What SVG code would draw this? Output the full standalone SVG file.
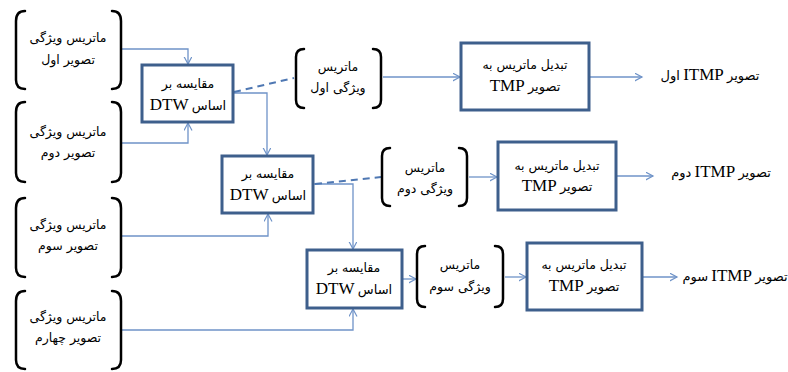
<svg xmlns="http://www.w3.org/2000/svg" width="788" height="372" viewBox="0 0 788 372">
<defs>
<marker id="arr" markerWidth="10" markerHeight="10" refX="7.5" refY="4" orient="auto" markerUnits="userSpaceOnUse">
<path d="M0,0 L7.5,4 L0,8" fill="none" stroke="#6f93c8" stroke-width="1.2"/>
</marker>
<style>
.box{fill:#ffffff;stroke:#3e5f8c;stroke-width:3}
.br{fill:none;stroke:#000000;stroke-width:2.5;stroke-linecap:round}
.c{fill:none;stroke:#6f93c8;stroke-width:1.3}
.d{fill:none;stroke:#4f78b3;stroke-width:2;stroke-dasharray:7,5}
.ar{font-family:"DejaVu Sans",sans-serif;font-size:12.5px;fill:#000}
.t{font-family:"Liberation Serif","DejaVu Sans",serif;font-size:13px;fill:#000}
.big{font-family:"Liberation Serif",serif;font-size:17px}
</style>
</defs>
<rect width="788" height="372" fill="#ffffff"/>

<g id="connectors">
<path class="c" d="M122,49 H188 V64" marker-end="url(#arr)"/>
<path class="c" d="M122,143 H188 V123" marker-end="url(#arr)"/>
<path class="c" d="M233,93 H267 V155" marker-end="url(#arr)"/>
<path class="c" d="M122,236 H268 V214" marker-end="url(#arr)"/>
<path class="c" d="M314,184 H353 V249" marker-end="url(#arr)"/>
<path class="c" d="M122,330 H353 V309" marker-end="url(#arr)"/>
<path class="c" d="M403,279 H416" marker-end="url(#arr)"/>
<path class="c" d="M505,277 H526" marker-end="url(#arr)"/>
<path class="c" d="M643,277 H677" marker-end="url(#arr)"/>
<path class="c" d="M383,77 H460" marker-end="url(#arr)"/>
<path class="c" d="M590,77 H642" marker-end="url(#arr)"/>
<path class="c" d="M469,177 H497" marker-end="url(#arr)"/>
<path class="c" d="M617,176 H653" marker-end="url(#arr)"/>
<path class="d" d="M234,92 L294,78"/>
<path class="d" d="M315,184 L381,177"/>
</g>

<g id="n1">
<path class="br" d="M25,11 Q16,11 16,21 V80 Q16,89 25,89"/>
<path class="br" d="M112,11 Q121,11 121,21 V80 Q121,89 112,89"/>
<text class="ar" x="68" y="42" text-anchor="middle" direction="rtl">ماتریس ویژگی</text>
<text class="ar" x="68" y="64" text-anchor="middle" direction="rtl">تصویر اول</text>
</g>
<g id="n2">
<path class="br" d="M25,102 Q16,102 16,112 V173 Q16,182 25,182"/>
<path class="br" d="M112,102 Q121,102 121,112 V173 Q121,182 112,182"/>
<text class="ar" x="68" y="136" text-anchor="middle" direction="rtl">ماتریس ویژگی</text>
<text class="ar" x="68" y="157" text-anchor="middle" direction="rtl">تصویر دوم</text>
</g>
<g id="n3">
<path class="br" d="M25,198 Q16,198 16,208 V268 Q16,277 25,277"/>
<path class="br" d="M112,198 Q121,198 121,208 V268 Q121,277 112,277"/>
<text class="ar" x="68" y="229" text-anchor="middle" direction="rtl">ماتریس ویژگی</text>
<text class="ar" x="68" y="250" text-anchor="middle" direction="rtl">تصویر سوم</text>
</g>
<g id="n4">
<path class="br" d="M25,291 Q16,291 16,301 V360 Q16,369 25,369"/>
<path class="br" d="M112,291 Q121,291 121,301 V360 Q121,369 112,369"/>
<text class="ar" x="68" y="321" text-anchor="middle" direction="rtl">ماتریس ویژگی</text>
<text class="ar" x="68" y="342" text-anchor="middle" direction="rtl">تصویر چهارم</text>
</g>

<g id="dtw1">
<rect class="box" x="142" y="65" width="91" height="57"/>
<text class="ar" x="188" y="88" text-anchor="middle" direction="rtl">مقایسه بر</text>
<text class="t" x="188" y="110" text-anchor="middle" direction="rtl">اساس <tspan class="big">DTW</tspan></text>
</g>
<g id="dtw2">
<rect class="box" x="222" y="156" width="91" height="57"/>
<text class="ar" x="268" y="178" text-anchor="middle" direction="rtl">مقایسه بر</text>
<text class="t" x="268" y="200" text-anchor="middle" direction="rtl">اساس <tspan class="big">DTW</tspan></text>
</g>
<g id="dtw3">
<rect class="box" x="307" y="250" width="95" height="58"/>
<text class="ar" x="354" y="272" text-anchor="middle" direction="rtl">مقایسه بر</text>
<text class="t" x="354" y="294" text-anchor="middle" direction="rtl">اساس <tspan class="big">DTW</tspan></text>
</g>

<g id="b1">
<path class="br" d="M304,49 Q296,49 296,57 V100 Q296,108 304,108"/>
<path class="br" d="M373,49 Q381,49 381,57 V100 Q381,108 373,108"/>
<text class="ar" x="338" y="71" text-anchor="middle" direction="rtl">ماتریس</text>
<text class="ar" x="338" y="92" text-anchor="middle" direction="rtl">ویژگی اول</text>
</g>
<g id="b2">
<path class="br" d="M390,148 Q382,148 382,156 V198 Q382,206 390,206"/>
<path class="br" d="M459,148 Q467,148 467,156 V198 Q467,206 459,206"/>
<text class="ar" x="425" y="172" text-anchor="middle" direction="rtl">ماتریس</text>
<text class="ar" x="425" y="193" text-anchor="middle" direction="rtl">ویژگی دوم</text>
</g>
<g id="b3">
<path class="br" d="M425,246 Q417,246 417,254 V299 Q417,307 425,307"/>
<path class="br" d="M495,246 Q503,246 503,254 V299 Q503,307 495,307"/>
<text class="ar" x="460" y="269" text-anchor="middle" direction="rtl">ماتریس</text>
<text class="ar" x="460" y="291" text-anchor="middle" direction="rtl">ویژگی سوم</text>
</g>

<g id="tmp1">
<rect class="box" x="461" y="43" width="128" height="67"/>
<text class="ar" x="525" y="69" text-anchor="middle" direction="rtl">تبدیل ماتریس به</text>
<text class="t" x="525" y="91" text-anchor="middle" direction="rtl">تصویر <tspan class="big">TMP</tspan></text>
</g>
<g id="tmp2">
<rect class="box" x="498" y="142" width="118" height="68"/>
<text class="ar" x="557" y="170" text-anchor="middle" direction="rtl">تبدیل ماتریس به</text>
<text class="t" x="557" y="191" text-anchor="middle" direction="rtl">تصویر <tspan class="big">TMP</tspan></text>
</g>
<g id="tmp3">
<rect class="box" x="527" y="243" width="115" height="67"/>
<text class="ar" x="584" y="269" text-anchor="middle" direction="rtl">تبدیل ماتریس به</text>
<text class="t" x="584" y="291" text-anchor="middle" direction="rtl">تصویر <tspan class="big">TMP</tspan></text>
</g>

<g id="out1">
<text class="t" x="710" y="80" text-anchor="middle" direction="rtl">تصویر <tspan class="big">ITMP</tspan> اول</text>
</g>
<g id="out2">
<text class="t" x="721" y="177" text-anchor="middle" direction="rtl">تصویر <tspan class="big">ITMP</tspan> دوم</text>
</g>
<g id="out3">
<text class="t" x="735" y="281" text-anchor="middle" direction="rtl">تصویر <tspan class="big">ITMP</tspan> سوم</text>
</g>
</svg>
